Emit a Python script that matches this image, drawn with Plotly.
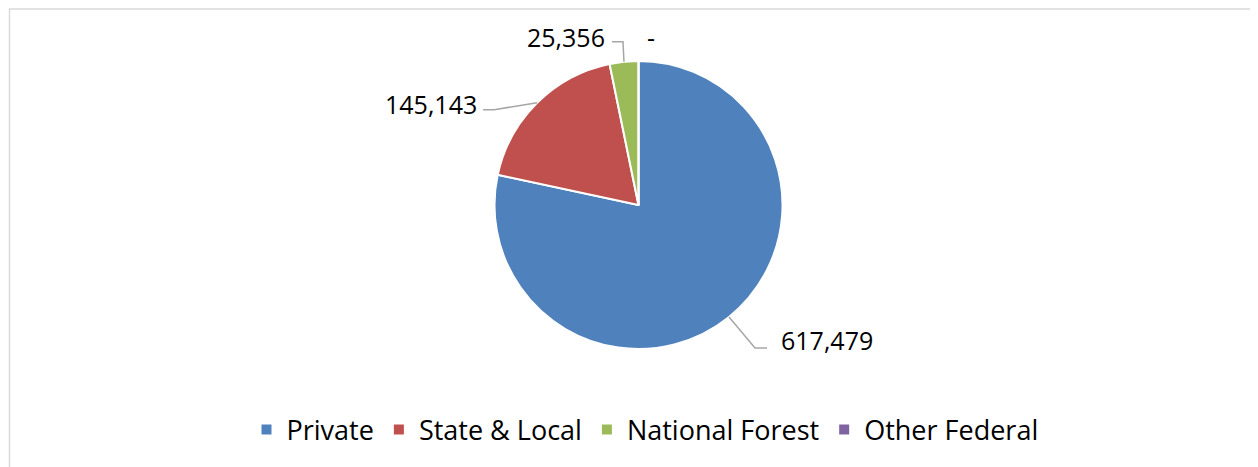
import math
import plotly.graph_objects as go

# ---- data ----
categories = ["Private", "State & Local", "National Forest", "Other Federal"]
values = [617479, 145143, 25356, 0]
colors = ["#4F81BD", "#C0504D", "#9BBB59", "#8064A2"]

# ---- layout constants ----
W, H = 1258, 467
OFF = 8  # page body margin of the rendered html
CX, CY, R = 638.5, 205.0, 144.0
FONT = "Open Sans"

# label offsets (elbow point, end of horizontal segment, text anchor) per slice, in px
label_style = [
    dict(elbow=(26, 31), tail=(38, 31), text=(50, 23), anchor="left", line=True),
    dict(elbow=(-43, 7), tail=(-54, 7), text=(-58, 1), anchor="right", line=True),
    dict(elbow=(-1, -20), tail=(-12, -20), text=(-17, -25), anchor="right", line=True),
    dict(elbow=(0, 0), tail=(0, 0), text=(12, -24), anchor="center", line=False),
]


def px(x):
    return (x - OFF) / W


def py(y):
    return 1 - (y - OFF) / H


fig = go.Figure(
    go.Pie(
        labels=categories,
        values=values,
        sort=False,
        direction="clockwise",
        rotation=0,
        textinfo="none",
        hoverinfo="label+value",
        marker=dict(colors=colors, line=dict(color="white", width=2)),
        domain=dict(x=[px(CX - R), px(CX + R)], y=[py(CY + R), py(CY - R)]),
    )
)

total = sum(values)
cum = 0.0
shapes = []
annotations = []
for v, st in zip(values, label_style):
    mid = (cum + v / 2) / total * 2 * math.pi
    cum += v
    sx = CX + R * math.sin(mid)
    sy = CY - R * math.cos(mid)
    ex, ey = sx + st["elbow"][0], sy + st["elbow"][1]
    tx, ty = sx + st["tail"][0], sy + st["tail"][1]
    if st["line"]:
        shapes.append(dict(type="path", xref="paper", yref="paper",
                           path=f"M {px(sx)},{py(sy)} L {px(ex)},{py(ey)} L {px(tx)},{py(ty)}",
                           line=dict(color="#A6A6A6", width=1.5)))
    label = f"{v:,}" if v else "-"
    annotations.append(dict(xref="paper", yref="paper",
                            x=px(sx + st["text"][0]), y=py(sy + st["text"][1]),
                            text=label, showarrow=False,
                            xanchor=st["anchor"], yanchor="middle",
                            font=dict(family=FONT, size=25, color="#000000")))

# chart border
shapes.append(dict(type="rect", xref="paper", yref="paper",
                   x0=px(9.5), y0=py(490), x1=px(1280), y1=py(9),
                   line=dict(color="#D9D9D9", width=1.5), layer="below"))

fig.update_layout(
    width=W, height=H,
    margin=dict(l=0, r=0, t=0, b=0),
    paper_bgcolor="white", plot_bgcolor="white",
    showlegend=True,
    legend=dict(orientation="h", x=px(645), xanchor="center", y=py(430), yanchor="middle",
                font=dict(family=FONT, size=27, color="#000000"),
                traceorder="normal"),
    shapes=shapes,
    annotations=annotations,
)

fig.write_html("out.html")
